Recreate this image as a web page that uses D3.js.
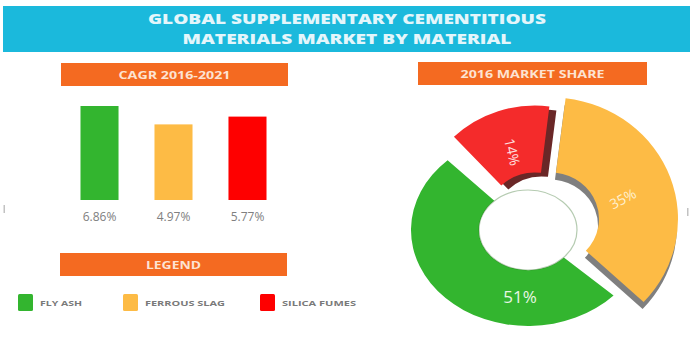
<!DOCTYPE html>
<html>
<head>
<meta charset="utf-8">
<script src="https://cdn.jsdelivr.net/npm/d3@7"></script>
<style>
  html, body { margin: 0; padding: 0; background: #ffffff; }
  svg { display: block; }
  text { font-family: "Open Sans", "DejaVu Sans", sans-serif; }
</style>
</head>
<body>
<div id="chart"></div>
<script>
// Materials, in legend order
const materials = ["FLY ASH", "FERROUS SLAG", "SILICA FUMES"];
const materialColors = ["#33b52f", "#fdbb45", "#fe0000"];
const pieColors = ["#33b52f", "#fdbb45", "#f42b2b"];

// CAGR 2016-2021 (%)
const cagrValues = [6.86, 4.97, 5.77];
// 2016 market share (%)
const shareValues = [51, 35, 14];

const titleLines = ["GLOBAL SUPPLEMENTARY CEMENTITIOUS", "MATERIALS MARKET BY MATERIAL"];
const panelTitles = ["CAGR 2016-2021", "2016 MARKET SHARE", "LEGEND"];

const W = 693, H = 339;
const svg = d3.select("#chart").append("svg").attr("width", W).attr("height", H);

// ---- Title banner ----
svg.append("rect").attr("x", 3).attr("y", 6).attr("width", 687).attr("height", 46).attr("fill", "#1bb9dc");
const titleWidths = [398, 329];
titleLines.forEach((t, i) => {
  svg.append("text")
    .attr("x", 347).attr("y", 24 + i * 20)
    .attr("text-anchor", "middle")
    .attr("font-size", 14).attr("font-weight", 800)
    .attr("fill", "#e4f6fb")
    .attr("textLength", titleWidths[i]).attr("lengthAdjust", "spacingAndGlyphs")
    .text(t);
});

// small side markers
svg.append("rect").attr("x", 3.5).attr("y", 205).attr("width", 1.5).attr("height", 8).attr("fill", "#9a9a9a").attr("opacity", 0.6);
svg.append("rect").attr("x", 687).attr("y", 208).attr("width", 1.5).attr("height", 8).attr("fill", "#9a9a9a").attr("opacity", 0.6);

// ---- Orange panel headers ----
const headers = [
  { x: 61, y: 63, w: 227, tw: 112 },
  { x: 418, y: 62, w: 229, tw: 144 },
  { x: 60, y: 253, w: 227, tw: 55 }
];
headers.forEach((h, i) => {
  svg.append("rect").attr("x", h.x).attr("y", h.y).attr("width", h.w).attr("height", 23).attr("fill", "#f46a21");
  svg.append("text")
    .attr("x", h.x + h.w / 2).attr("y", h.y + 15.5)
    .attr("text-anchor", "middle")
    .attr("font-size", 10).attr("font-weight", 700)
    .attr("fill", "#fde3d2")
    .attr("textLength", h.tw).attr("lengthAdjust", "spacingAndGlyphs")
    .text(panelTitles[i]);
});

// ---- CAGR bars ----
const x = d3.scaleBand().domain(materials).range([62, 285]).paddingInner(0.486).paddingOuter(0.25);
const y = d3.scaleLinear().domain([-2.8, 6.86]).range([200, 106]);

svg.append("g").selectAll("rect")
  .data(materials)
  .join("rect")
  .attr("x", d => x(d))
  .attr("y", (d, i) => y(cagrValues[i]))
  .attr("width", x.bandwidth())
  .attr("height", (d, i) => y(-2.8) - y(cagrValues[i]))
  .attr("fill", (d, i) => materialColors[i]);

svg.append("g").selectAll("text")
  .data(materials)
  .join("text")
  .attr("x", d => x(d) + x.bandwidth() / 2)
  .attr("y", 221)
  .attr("text-anchor", "middle")
  .attr("font-size", 12)
  .attr("fill", "#808080")
  .text((d, i) => cagrValues[i].toFixed(2) + "%");

// ---- Legend ----
const legendX = [18, 123, 260];
const legendTW = [42, 80, 74];
const lg = svg.append("g").selectAll("g").data(materials).join("g")
  .attr("transform", (d, i) => `translate(${legendX[i]},294)`);
lg.append("rect").attr("width", 15).attr("height", 17).attr("rx", 1.5)
  .attr("fill", (d, i) => materialColors[i]);
lg.append("text").attr("x", 22).attr("y", 11.5)
  .attr("font-size", 7.5).attr("font-weight", 700).attr("fill", "#7a7a7a")
  .attr("textLength", (d, i) => legendTW[i]).attr("lengthAdjust", "spacingAndGlyphs")
  .text(d => d);

// ---- 2016 market share donut (tilted ring, pulled-out slices with depth) ----
// per-material settings: [fly ash, ferrous slag, silica fumes]
const cx = 528, cy = 230;
const toRad = Math.PI / 180;
const outerR = [117, 128, 118];
const tilt = [0.82, 0.95, 0.97];
const pullOut = [[0, 0], [22, -11], [7, -10]];
const depthColors = [null, "#000000", "#5a1010"];
const depthOpacity = [0, 0.5, 0.9];
const depthShift = [[0, 0], [-1, 7], [7, 4]];

// clockwise from the lower right: fly ash, silica fumes, ferrous slag
const ringOrder = [0, 2, 1];
const pie = d3.pie().sort(null).value(i => shareValues[i])
  .startAngle(133 * toRad).endAngle(493 * toRad);
const slices = pie(ringOrder);

const donut = svg.append("g").attr("transform", `translate(${cx},${cy})`);

// green ring first, then the pulled-out slices with a dark side
[0, 1, 2].forEach(k => {
  const s = slices[k];
  const i = s.data;
  const [dx, dy] = pullOut[i];
  const arc = d3.arc().innerRadius(49).outerRadius(outerR[i]);
  if (depthColors[i]) {
    donut.append("path").attr("d", arc(s))
      .attr("transform", `translate(${dx + depthShift[i][0]},${dy + depthShift[i][1]}) scale(1,${tilt[i]})`)
      .attr("fill", depthColors[i]).attr("fill-opacity", depthOpacity[i]);
  }
  donut.append("path").attr("d", arc(s))
    .attr("transform", `translate(${dx},${dy}) scale(1,${tilt[i]})`)
    .attr("fill", pieColors[i]);
});

// hole
donut.append("ellipse").attr("rx", 49).attr("ry", 40).attr("fill", "#ffffff")
  .attr("stroke", "#2c6b20").attr("stroke-opacity", 0.35).attr("stroke-width", 1.2);

// slice labels
const labelPos = [
  { x: 520, y: 303, r: 0, fs: 17, fill: "#e8f7e4" },   // fly ash
  { x: 623, y: 199, r: -28, fs: 14, fill: "#fff1d2" },  // ferrous slag
  { x: 512, y: 152, r: 77, fs: 14, fill: "#ffe0e0" }    // silica fumes
];
materials.forEach((m, i) => {
  const p = labelPos[i];
  svg.append("text")
    .attr("transform", `translate(${p.x},${p.y}) rotate(${p.r})`)
    .attr("text-anchor", "middle")
    .attr("dy", p.r === 0 ? 0 : "0.35em")
    .attr("font-size", p.fs)
    .attr("fill", p.fill)
    .text(shareValues[i] + "%");
});
</script>
</body>
</html>
